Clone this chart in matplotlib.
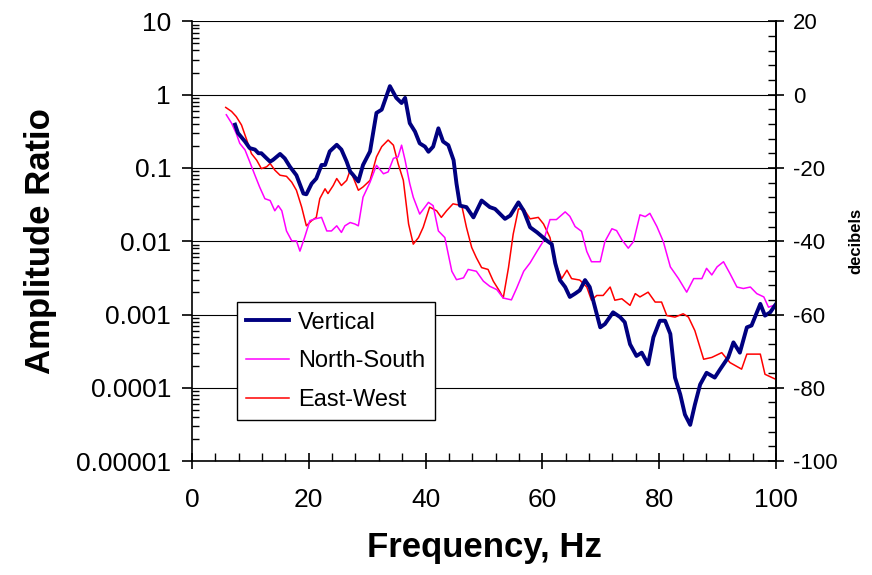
import numpy as np
import matplotlib
matplotlib.use('Agg')
import matplotlib.pyplot as plt
from matplotlib.ticker import MultipleLocator, FixedLocator, FixedFormatter, LogLocator, NullFormatter

plt.rcParams['font.family'] = ['Liberation Sans', 'DejaVu Sans']
plt.rcParams['axes.unicode_minus'] = False

# readings taken off the chart, in dB (right axis); amplitude ratio = 10**(dB/20)
vert_f = [7.4, 7.9, 9.1, 9.9, 10.8, 11.4, 11.9, 12.8, 13.4, 13.9, 15.1, 15.9, 16.8, 17.9, 19.1, 19.6,
          20.5, 21.3, 22.2, 22.8, 23.6, 24.8, 25.6, 26.5, 27.1, 27.6, 28.5, 29.3, 30.5, 31.6, 32.5, 33.9,
          35.0, 35.9, 36.5, 37.3, 38.2, 39.0, 39.9, 40.5, 41.3, 42.2, 43.0, 43.9, 44.8, 45.3, 45.9, 47.0,
          48.2, 49.6, 51.0, 51.9, 53.6, 54.5, 55.9, 56.8, 57.9, 59.1, 60.8, 61.6, 62.2, 63.0, 63.9, 64.7,
          65.6, 66.4, 67.3, 68.1, 69.0, 69.9, 70.7, 72.1, 73.3, 74.1, 75.0, 76.1, 77.0, 78.1, 79.0, 80.1,
          81.0, 81.9, 82.7, 83.6, 84.4, 85.3, 86.1, 87.0, 88.1, 89.5, 90.4, 91.8, 92.7, 93.8, 95.0, 95.8,
          97.3, 98.1, 99.0, 100.0]
vert_db = [-8.2, -10.5, -12.8, -14.6, -15, -16, -16, -17.4, -18.3, -17.8, -16.2, -17.4, -19.7, -22, -27, -27.2,
           -24.3, -22.9, -19.2, -19.2, -15.5, -13.7, -15, -18.3, -21, -21.9, -23.7, -19.2, -15.5, -5, -4.1, 2.3,
           -0.9, -2.3, -0.9, -7.8, -10.1, -13.3, -14.2, -15.6, -14.2, -9.2, -12.8, -13.8, -17.9, -24.3, -30.3, -30.7,
           -33.5, -28.9, -30.7, -31.2, -33.9, -33, -29.4, -31.7, -36.2, -37.6, -39.9, -40.8, -46, -50.6, -52.5, -55.2,
           -54.3, -53.4, -50.6, -52.5, -58, -63.5, -62.6, -59.4, -60.7, -62.1, -68.1, -71.3, -70.4, -73.6, -66.2, -61.7,
           -61.7, -65.3, -77.2, -81.8, -87.3, -90.1, -84.6, -79.1, -75.9, -77.2, -75, -71.7, -67.6, -70.4, -63.5, -63,
           -57.1, -60.3, -59.4, -57.1]

ns_f = [5.9, 6.8, 7.6, 8.2, 9.1, 9.9, 10.8, 11.6, 12.5, 13.4, 14.2, 14.8, 15.4, 16.2, 17.1, 17.9, 18.5, 19.3,
        20.2, 21.1, 22.2, 23.1, 23.9, 24.8, 25.6, 26.2, 27.1, 27.9, 28.5, 29.3, 30.5, 31.6, 32.8, 33.6, 34.5, 35.3,
        35.9, 36.5, 37.3, 37.9, 39.0, 39.9, 40.5, 41.3, 42.2, 43.3, 44.5, 45.3, 46.5, 47.3, 48.7, 49.9, 51.0, 52.2,
        53.3, 54.7, 55.6, 56.8, 57.9, 59.1, 60.2, 61.3, 62.4, 63.9, 64.7, 65.6, 66.7, 67.6, 68.4, 69.9, 70.7, 71.9,
        72.7, 73.6, 74.7, 75.6, 76.7, 77.6, 78.4, 79.6, 80.7, 81.9, 83.3, 84.7, 85.9, 87.3, 88.1, 89.0, 89.9, 91.0,
        92.1, 93.3, 94.4, 95.6, 96.7, 97.9, 98.7, 99.6, 100.0]
ns_db = [-5.5, -7.8, -10.6, -13.3, -15.1, -18.3, -22, -25.2, -28.4, -28.9, -31.7, -30.3, -31.7, -37.2, -39.9, -39.9, -42.7, -39,
         -34.4, -33.9, -33.5, -37.2, -37.2, -35.8, -37.6, -35.8, -34.9, -35.3, -35.8, -28, -23.9, -19.3, -21.6, -21.1, -17.4, -17,
         -13.8, -17.9, -24.3, -28, -32.6, -30.7, -29.4, -30.3, -37.2, -39, -48.2, -50.5, -50, -47.7, -48.2, -50.9, -52.3, -53.2,
         -55.5, -56, -52.8, -48.2, -45.9, -42.7, -39.9, -34.1, -34.1, -32, -33.2, -36, -37.3, -42.8, -45.6, -45.6, -40.1, -36.6,
         -37.1, -39.6, -41.9, -40.1, -32.8, -33.3, -32.4, -36, -40.1, -47, -50.2, -53.9, -50.2, -50.2, -47.4, -49.2, -47, -45.6,
         -48.8, -52.5, -52.9, -52.5, -54.3, -55.2, -58, -57.5, -57.1]

ew_f = [5.8, 6.8, 7.6, 8.5, 9.4, 10.2, 11.1, 11.9, 12.8, 13.4, 14.2, 15.1, 16.2, 17.1, 17.9, 18.8, 19.6, 20.5,
        21.3, 21.9, 22.8, 23.3, 24.2, 24.8, 25.6, 26.5, 27.1, 27.6, 28.5, 29.3, 30.5, 31.6, 32.5, 33.6, 34.5, 35.3,
        36.2, 37.1, 37.9, 38.8, 39.6, 40.7, 41.9, 42.7, 43.6, 44.7, 46.2, 47.0, 47.9, 48.7, 49.6, 50.7, 51.6, 52.7,
        53.3, 54.2, 55.0, 55.9, 56.8, 57.9, 59.3, 60.2, 61.3, 62.2, 63.3, 64.2, 65.0, 66.4, 67.6, 68.4, 69.3, 70.4,
        71.6, 72.4, 73.6, 75.0, 75.9, 76.7, 78.1, 79.3, 80.4, 81.3, 82.7, 84.1, 85.0, 86.1, 87.6, 89.0, 90.7, 92.1,
        94.1, 95.0, 97.3, 98.1, 99.3, 100.0]
ew_db = [-3.5, -4.6, -6, -8.3, -12.4, -16.1, -17.9, -20.2, -19.7, -18.8, -20.6, -22, -22.3, -23.9, -26.1, -30.7, -35.8, -34.4,
         -33.5, -28.4, -25.7, -27, -24.8, -22.9, -24.8, -23.4, -20.6, -22.5, -26.1, -25.2, -23.4, -17, -14.2, -12.4, -13.8, -18.8,
         -23.4, -35.3, -40.8, -39, -36.2, -30.7, -31.7, -33.5, -31.7, -29.8, -30.3, -36.2, -41.7, -44.5, -47.2, -47.7, -50.9, -53.7,
         -55.5, -47.2, -38.1, -31.2, -31.2, -33.9, -33.5, -35.3, -39, -46, -50.2, -47.9, -50.2, -50.6, -52.5, -56.1, -54.8, -54.8,
         -52.5, -56.1, -55.7, -57.5, -54.3, -55.2, -53.9, -56.6, -56.6, -60.3, -60.7, -59.8, -60.7, -64.4, -72.2, -71.7, -70.4, -73.1,
         -74.9, -70.8, -70.8, -76.3, -77.2, -77.7]

amp_ticks = [1e-5, 1e-4, 1e-3, 1e-2, 1e-1, 1, 10]
amp_labels = ['0.00001', '0.0001', '0.001', '0.01', '0.1', '1', '10']
x_ticks = [0, 20, 40, 60, 80, 100]
db_ticks = [-100, -80, -60, -40, -20, 0, 20]


def to_amp(db):
    return 10 ** (np.array(db) / 20.0)


fig = plt.figure(figsize=(8.72, 5.75), dpi=100)
ax = fig.add_axes([0.220, 0.198, 0.670, 0.765])

ax.plot(ew_f, to_amp(ew_db), color='#FF0000', lw=1.1, label='East-West', zorder=3)
ax.plot(ns_f, to_amp(ns_db), color='#FF00FF', lw=1.1, label='North-South', zorder=3)
ax.plot(vert_f, to_amp(vert_db), color='#000080', lw=2.8, label='Vertical', zorder=4)

ax.set_yscale('log')
ax.set_ylim(1e-5, 10)
ax.set_xlim(0, 100)
ax.yaxis.set_major_locator(FixedLocator(amp_ticks))
ax.yaxis.set_major_formatter(FixedFormatter(amp_labels))
ax.yaxis.set_minor_locator(LogLocator(base=10, subs=np.arange(2, 10)))
ax.yaxis.set_minor_formatter(NullFormatter())
ax.set_xticks(x_ticks)
ax.xaxis.set_minor_locator(MultipleLocator(4))

ax.grid(True, axis='y', which='major', color='black', lw=0.8)
ax.set_axisbelow(True)
for s in ['left', 'bottom', 'right']:
    ax.spines[s].set_linewidth(1.2)
ax.spines['top'].set_visible(False)

ax.tick_params(axis='y', which='major', direction='out', length=7, width=1.2, labelsize=19, pad=8)
ax.tick_params(axis='y', which='minor', direction='in', length=5, width=1.0)
ax.tick_params(axis='x', which='major', direction='inout', length=12, width=1.2, labelsize=19, pad=13)
ax.tick_params(axis='x', which='minor', direction='in', length=6, width=1.0)

ax.set_xlabel('Frequency, Hz', fontsize=25, fontweight='bold', labelpad=14)
ax.set_ylabel('Amplitude Ratio', fontsize=25, fontweight='bold', labelpad=14)

ax2 = ax.twinx()
ax2.set_ylim(-100, 20)
ax2.set_yticks(db_ticks)
ax2.yaxis.set_minor_locator(MultipleLocator(4))
ax2.tick_params(axis='y', which='major', direction='inout', length=12, width=1.2, labelsize=16, pad=6)
ax2.tick_params(axis='y', which='minor', direction='in', length=6, width=1.0)
for s in ['left', 'bottom', 'top']:
    ax2.spines[s].set_visible(False)
ax2.spines['right'].set_linewidth(1.2)
ax2.set_ylabel('decibels', fontsize=12, fontweight='bold', labelpad=8)

h, l = ax.get_legend_handles_labels()
order = [2, 1, 0]
leg = ax2.legend([h[i] for i in order], [l[i] for i in order], loc='lower left',
                 bbox_to_anchor=(0.077, 0.093), borderaxespad=0, fontsize=17,
                 fancybox=False, framealpha=1, edgecolor='black',
                 handlelength=1.8, handletextpad=0.4, labelspacing=0.7, borderpad=0.4)
leg.get_frame().set_linewidth(1.0)

fig.savefig('out.png', dpi=100)
